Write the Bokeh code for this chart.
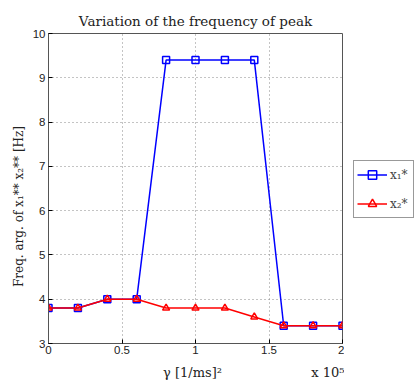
from bokeh.plotting import figure
from bokeh.models import Range1d, Legend, LegendItem, FixedTicker, LinearAxis
from bokeh.layouts import row
from bokeh.embed import file_html
from bokeh.resources import INLINE

gamma = [0.0, 0.2, 0.4, 0.6, 0.8, 1.0, 1.2, 1.4, 1.6, 1.8, 2.0]
x1 = [3.8, 3.8, 4.0, 4.0, 9.4, 9.4, 9.4, 9.4, 3.4, 3.4, 3.4]
x2 = [3.8, 3.8, 4.0, 4.0, 3.8, 3.8, 3.8, 3.6, 3.4, 3.4, 3.4]
xticks = [0, 0.5, 1, 1.5, 2]
yticks = [3, 4, 5, 6, 7, 8, 9, 10]
xlabel = "γ [1/ms]²"
xscale = "x 10⁵"
ylabel = "Freq. arg. of x₁** x₂** [Hz]"
labels = ["x₁*", "x₂*"]

p = figure(width=344, height=382, output_backend="svg", toolbar_location=None,
           x_range=Range1d(0, 2), y_range=Range1d(3, 10),
           min_border_left=48, min_border_right=2, min_border_top=33, min_border_bottom=37)
p.title.text = "Variation of the frequency of peak"
p.title.text_font = "DejaVu Serif"
p.title.text_font_style = "normal"
p.title.text_font_size = "13.5px"
p.title.text_color = "#222222"
p.title.align = "center"
p.title.offset = 0

p.outline_line_color = "#555555"
p.outline_line_width = 1
p.background_fill_color = "white"
p.border_fill_color = "white"

for ax in (p.xaxis[0], p.yaxis[0]):
    ax.major_label_text_font = "Liberation Sans"
    ax.major_label_text_font_size = "11.5px"
    ax.major_label_text_color = "#222222"
    ax.axis_line_color = "#555555"
    ax.major_tick_in = 4
    ax.major_tick_out = 0
    ax.minor_tick_line_color = None
    ax.axis_label_text_font = "DejaVu Serif"
    ax.axis_label_text_font_style = "normal"
    ax.axis_label_text_font_size = "12px"
    ax.axis_label_text_color = "#222222"

p.xaxis.ticker = FixedTicker(ticks=xticks)
p.yaxis.ticker = FixedTicker(ticks=yticks)
p.xaxis.major_label_overrides = {0: "0", 0.5: "0.5", 1: "1", 1.5: "1.5", 2: "2"}
p.yaxis.axis_label = ylabel + "\u2003" * 3
p.xaxis.major_label_standoff = 2
p.yaxis.major_label_standoff = 3
p.yaxis.axis_label_standoff = 4

# second row below: x label and the scale factor
ax2 = LinearAxis(ticker=FixedTicker(ticks=[0.98, 1.9]),
                 major_label_overrides={0.98: xlabel, 1.9: xscale},
                 axis_line_color=None, major_tick_line_color=None,
                 minor_tick_line_color=None, major_label_standoff=2,
                 major_label_text_font="DejaVu Serif", major_label_text_font_size="13px",
                 major_label_text_color="#222222")
p.add_layout(ax2, "below")

p.grid.grid_line_color = "#888888"
p.grid.grid_line_dash = "1 3"
p.grid.grid_line_width = 1

p.line(gamma, x1, color="blue", line_width=1.5)
p.scatter(gamma, x1, marker="square", size=7, line_color="blue", fill_color=None, line_width=1.5)
p.line(gamma, x2, color="red", line_width=1.5)
p.scatter(gamma, x2, marker="triangle", size=7, line_color="red", fill_color=None, line_width=1.5)

# legend panel (series drawn again outside its visible range so only the legend shows)
q = figure(width=70, height=382, output_backend="svg", toolbar_location=None,
           x_range=Range1d(10, 11), y_range=Range1d(100, 101),
           min_border=0, outline_line_color=None)
q.axis.visible = False
q.grid.visible = False
ql1 = q.line(gamma, x1, color="blue", line_width=1.5)
qm1 = q.scatter(gamma, x1, marker="square", size=7, line_color="blue", fill_color=None, line_width=1.5)
ql2 = q.line(gamma, x2, color="red", line_width=1.5)
qm2 = q.scatter(gamma, x2, marker="triangle", size=7, line_color="red", fill_color=None, line_width=1.5)
legend = Legend(items=[LegendItem(label=labels[0], renderers=[ql1, qm1]),
                       LegendItem(label=labels[1], renderers=[ql2, qm2])],
                location=(9, 125), orientation="vertical",
                border_line_color="#333333", background_fill_alpha=1,
                label_text_font="DejaVu Serif", label_text_font_size="12px",
                glyph_width=30, glyph_height=21, spacing=8, padding=3, margin=0,
                label_standoff=3)
q.add_layout(legend, "center")

layout = row(p, q)
open("out.html", "w").write(file_html(layout, INLINE))
